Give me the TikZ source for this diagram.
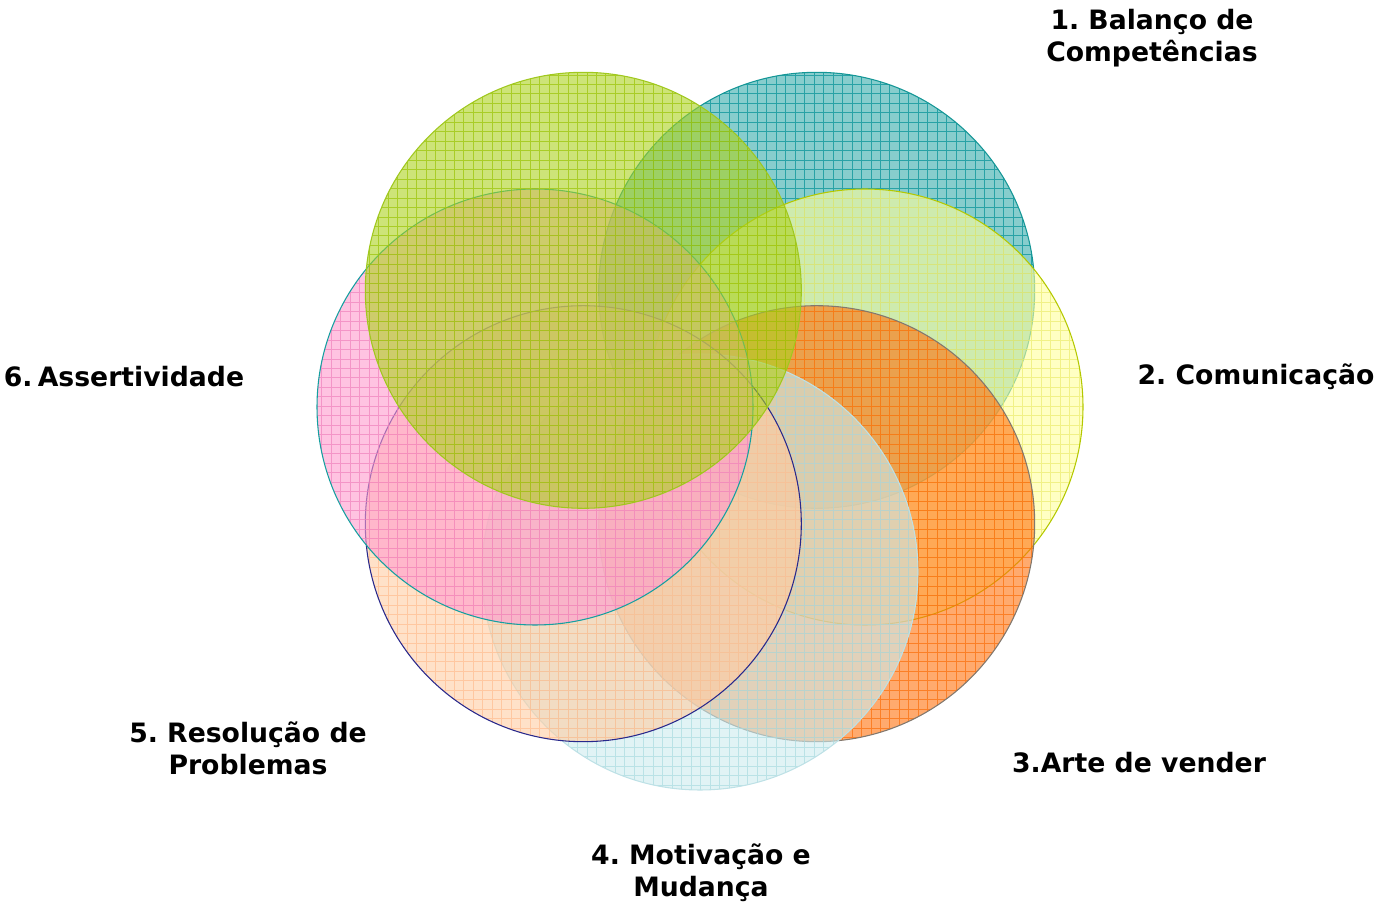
\documentclass[tikz,border=0pt]{standalone}
\usepackage{fontspec}
\setmainfont{DejaVu Sans}
\usetikzlibrary{calc}
\frenchspacing

\definecolor{greenfill}{RGB}{172,210,30}
\definecolor{greengrid}{RGB}{155,195,5}
\definecolor{greenedge}{RGB}{160,200,30}
\definecolor{tealfill}{RGB}{55,172,172}
\definecolor{tealgrid}{RGB}{0,145,150}
\definecolor{tealedge}{RGB}{20,150,150}
\definecolor{yellowfill}{RGB}{255,255,155}
\definecolor{yellowgrid}{RGB}{235,235,110}
\definecolor{yellowedge}{RGB}{180,200,0}
\definecolor{orangefill}{RGB}{255,113,13}
\definecolor{orangegrid}{RGB}{250,110,10}
\definecolor{orangeedge}{RGB}{130,120,110}
\definecolor{cyanfill}{RGB}{205,235,238}
\definecolor{cyangrid}{RGB}{170,219,225}
\definecolor{cyanedge}{RGB}{190,225,230}
\definecolor{peachfill}{RGB}{255,205,163}
\definecolor{peachgrid}{RGB}{255,189,143}
\definecolor{peachedge}{RGB}{40,40,140}
\definecolor{pinkfill}{RGB}{255,155,205}
\definecolor{pinkgrid}{RGB}{241,131,189}
\definecolor{pinkedge}{RGB}{20,160,160}

% one hatched disc: centre, fill, grid, edge
\newcommand{\petal}[4]{%
  \begin{scope}
    \clip (#1) circle[radius=218];
    \fill[#2, fill opacity=0.6] (#1) circle[radius=218];
    \draw[#3, petalgrid] ($(#1)+(-220,-220)$) grid ($(#1)+(220,220)$);
  \end{scope}
  \draw[#4, line width=0.8pt] (#1) circle[radius=218];
}

\begin{document}
\begin{tikzpicture}[x=0.75pt, y=0.75pt,
    petalgrid/.style={step=7.1pt, line width=0.6pt, draw opacity=0.7},
    label/.style={font=\fontsize{20}{24}\selectfont\bfseries, align=center}]
    \useasboundingbox (0,0) rectangle (1397,908);

    \coordinate (c1) at (816.7,617.7);
    \coordinate (c2) at (865,501);
    \coordinate (c3) at (816.7,384.3);
    \coordinate (c4) at (700,336);
    \coordinate (c5) at (583.3,384.3);
    \coordinate (c6) at (535,501);
    \coordinate (c7) at (583.3,617.7);

    \petal{c1}{tealfill}{tealgrid}{tealedge}
    \petal{c2}{yellowfill}{yellowgrid}{yellowedge}
    \petal{c3}{orangefill}{orangegrid}{orangeedge}
    \petal{c4}{cyanfill}{cyangrid}{cyanedge}
    \petal{c5}{peachfill}{peachgrid}{peachedge}
    \petal{c6}{pinkfill}{pinkgrid}{pinkedge}
    \petal{c7}{greenfill}{greengrid}{greenedge}

    \node[label] (t1) at (1152,870) {1. Balanço de\\Competências};
    \node[label] (t2) at (1256,531) {2. Comunicação};
    \node[label] (t3) at (1139,145) {3.Arte de vender};
    \node[label] (t4) at (701,35) {4. Motivação e\\Mudança};
    \node[label] (t5) at (248,160) {5. Resolução de\\Problemas};
    \node[label] (t6) at (124,531) {6.\kern0.2em Assertividade};
\end{tikzpicture}
\end{document}
